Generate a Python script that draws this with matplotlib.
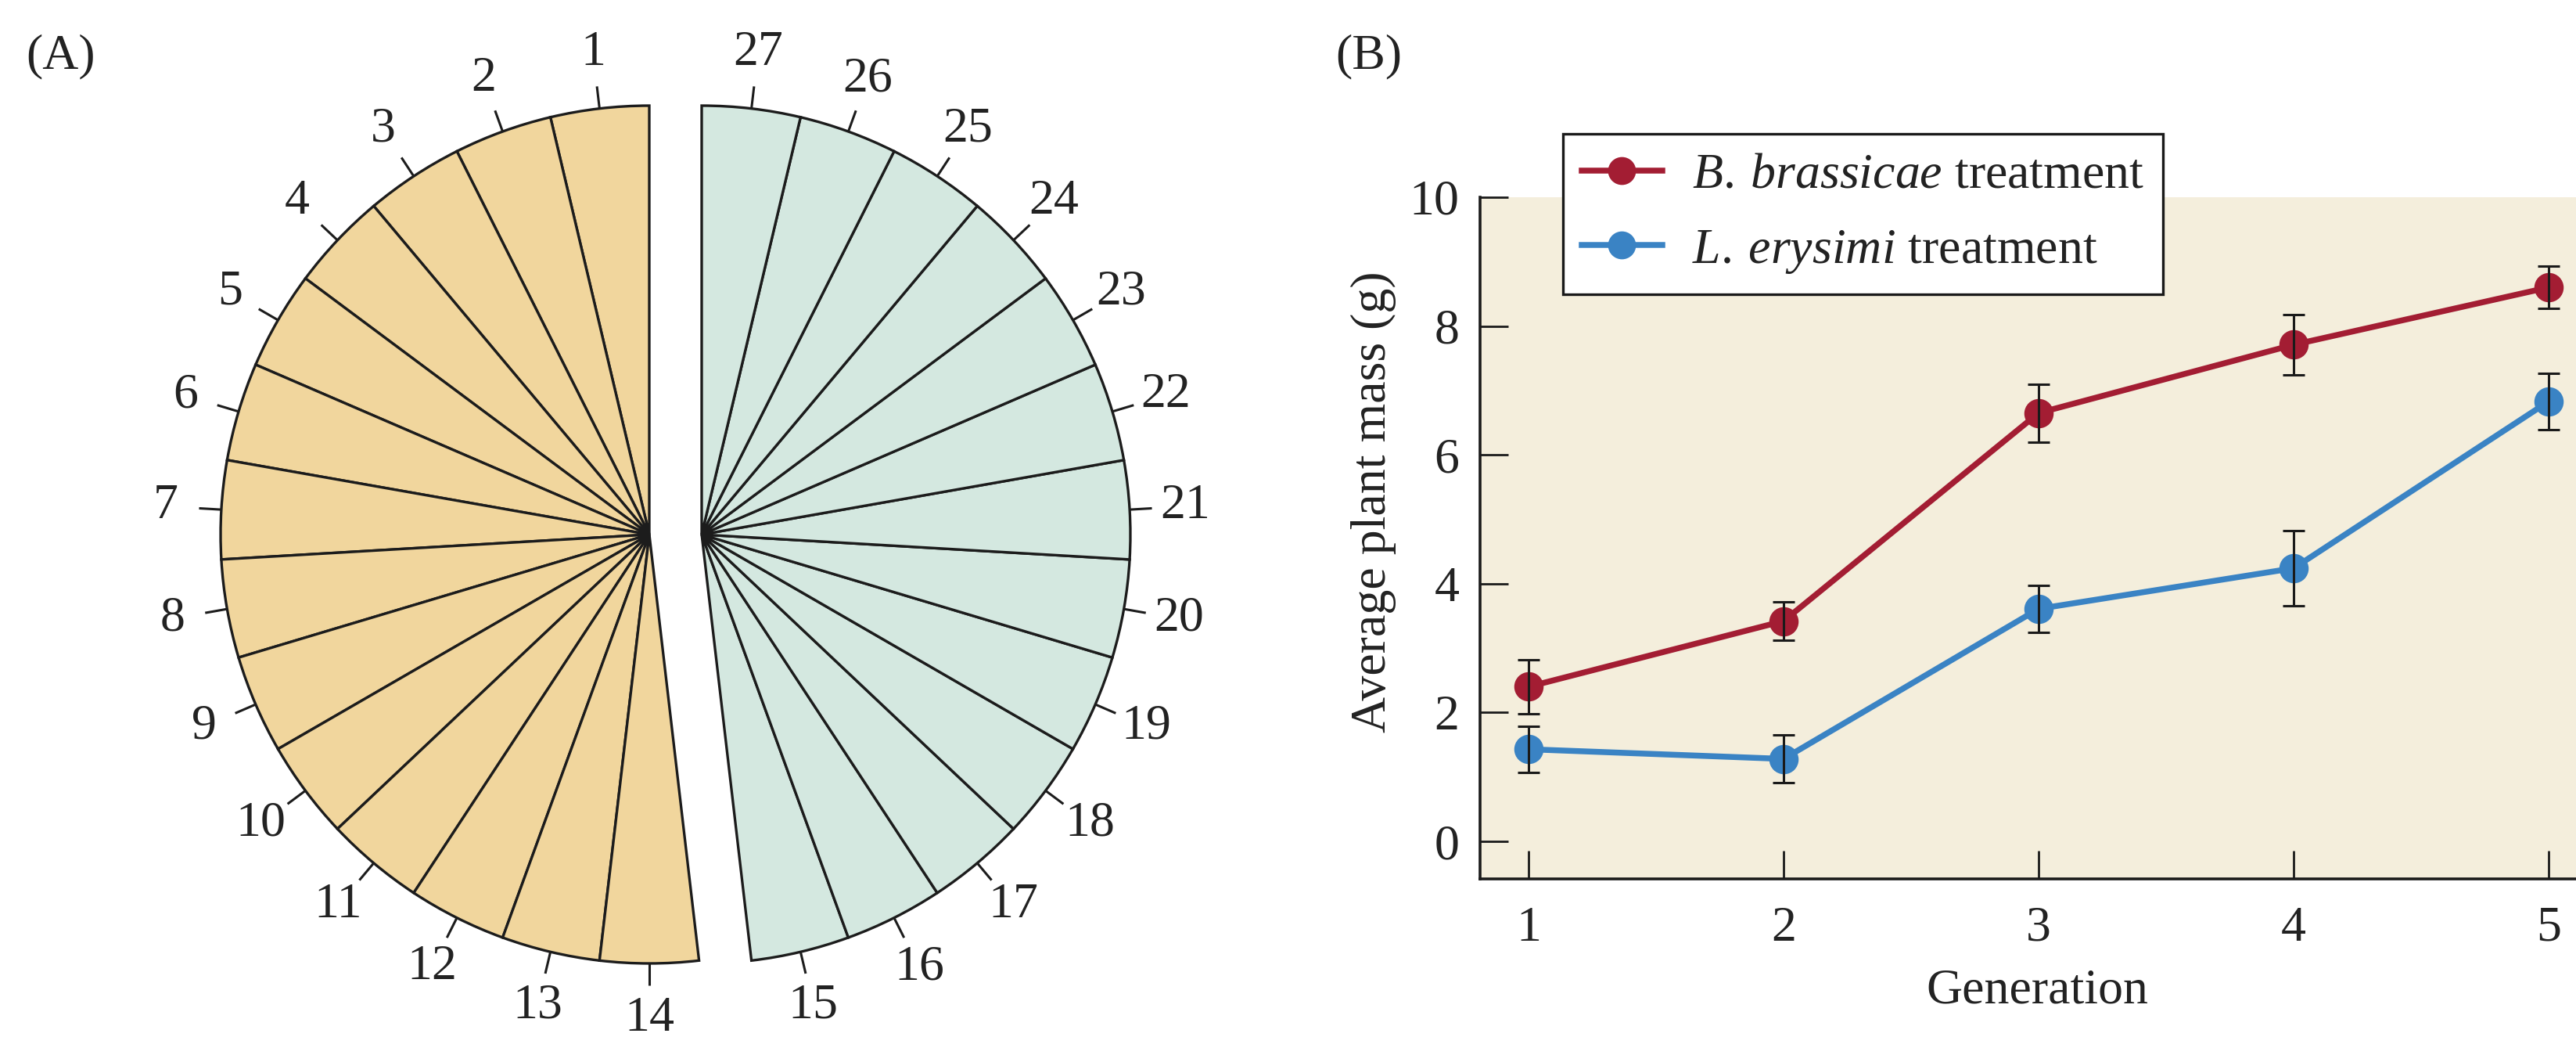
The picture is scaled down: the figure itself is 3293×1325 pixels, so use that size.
import matplotlib
matplotlib.use("Agg")
import matplotlib.pyplot as plt
import numpy as np

plt.rcParams['font.family'] = ['Liberation Serif', 'DejaVu Serif']
plt.rcParams['mathtext.fontset'] = 'custom'
plt.rcParams['mathtext.rm'] = 'Liberation Serif'
plt.rcParams['mathtext.it'] = 'Liberation Serif:italic'

# ---------------- data ----------------
sector_labels = ['1', '2', '3', '4', '5', '6', '7', '8', '9', '10', '11', '12', '13', '14',
                 '15', '16', '17', '18', '19', '20', '21', '22', '23', '24', '25', '26', '27']
sector_sizes = [1, 1, 1, 1, 1, 1, 1, 1, 1, 1, 1, 1, 1, 1,
                1, 1, 1, 1, 1, 1, 1, 1, 1, 1, 1, 1, 1]
sector_group = ['A'] * 14 + ['B'] * 13

generations = [1, 2, 3, 4, 5]
brassicae_mass = [2.40, 3.42, 6.65, 7.71, 8.60]
brassicae_err = [0.42, 0.30, 0.45, 0.47, 0.33]
erysimi_mass = [1.43, 1.28, 3.61, 4.24, 6.83]
erysimi_err = [0.36, 0.37, 0.36, 0.58, 0.44]

# ---------------- style ----------------
W, H = 3293, 1325
FS = 46
col_left = '#F1D69D'
col_right = '#D4E8E0'
edge = '#1c1c1c'
red = '#A31D33'
blue = '#3A83C4'

fig = plt.figure(figsize=(W / 100, H / 100), dpi=100)
fig.patch.set_facecolor('white')

# ---------------- Panel A: split pie ----------------
R_PX = 548.0
pie_w_px = 1727.0
cx_px, cy_px = 863.5, H - 683.0
axA = fig.add_axes([0, 0, pie_w_px / W, 1])
shift = 33.5 / R_PX
colors = [col_left if g == 'A' else col_right for g in sector_group]

for grp, dx in (('A', -shift), ('B', shift)):
    wedges, _ = axA.pie(sector_sizes, colors=colors, startangle=90, counterclock=True,
                        center=(dx, 0), radius=1.0,
                        wedgeprops=dict(edgecolor=edge, linewidth=2.4))
    for w, g, lab in zip(wedges, sector_group, sector_labels):
        if g != grp:
            w.set_visible(False)
            continue
        th = np.deg2rad((w.theta1 + w.theta2) / 2)
        c = np.array(w.center)
        p0 = c + 1.0 * np.array([np.cos(th), np.sin(th)])
        p1 = c + 1.052 * np.array([np.cos(th), np.sin(th)])
        axA.plot([p0[0], p1[0]], [p0[1], p1[1]], color=edge, lw=2.2, solid_capstyle='butt')
        pl = c + 1.13 * np.array([np.cos(th), np.sin(th)])
        axA.text(pl[0], pl[1], lab, ha='center', va='center', fontsize=FS, color='#222222')

axA.set_xlim(-cx_px / R_PX, (pie_w_px - cx_px) / R_PX)
axA.set_ylim(-cy_px / R_PX, (H - cy_px) / R_PX)
axA.set_aspect('auto')
axA.axis('off')

fig.text(77 / W, 1 - 72 / H, '(A)', ha='center', va='center', fontsize=FS, color='#222222')
fig.text(1750 / W, 1 - 72 / H, '(B)', ha='center', va='center', fontsize=FS, color='#222222')

# ---------------- Panel B: line chart ----------------
left_px, right_px, top_px, bot_px = 1892, 3293, 252, 1123
axB = fig.add_axes([left_px / W, 1 - bot_px / H, (right_px - left_px) / W, (bot_px - top_px) / H])
axB.set_facecolor('#F4EEDC')

axB.plot(generations, brassicae_mass, '-o', color=red, lw=5.4, ms=26, zorder=3,
         label=r'$\mathit{B.\:brassicae}$ treatment')
axB.plot(generations, erysimi_mass, '-o', color=blue, lw=5.4, ms=26, zorder=3,
         label=r'$\mathit{L.\:erysimi}$ treatment')
axB.errorbar(generations, brassicae_mass, yerr=brassicae_err, fmt='none', ecolor='#1a1a1a',
             elinewidth=2.2, capsize=10, capthick=2.2, zorder=4)
axB.errorbar(generations, erysimi_mass, yerr=erysimi_err, fmt='none', ecolor='#1a1a1a',
             elinewidth=2.2, capsize=10, capthick=2.2, zorder=4)

axB.set_xlim(0.81, 5.107)
axB.set_ylim(-0.583, 10.0)
axB.set_xticks(generations)
axB.set_yticks([0, 2, 4, 6, 8, 10])
for s in ('top', 'right'):
    axB.spines[s].set_visible(False)
for s in ('left', 'bottom'):
    axB.spines[s].set_linewidth(2.6)
    axB.spines[s].set_color('#1a1a1a')
axB.tick_params(axis='both', direction='in', length=26, width=2.0, labelsize=FS,
                colors='#1a1a1a', labelcolor='#222222')
axB.tick_params(axis='x', pad=25)
axB.tick_params(axis='y', pad=19)

axB.set_ylabel('Average plant mass (g)', fontsize=FS, color='#222222', va='center')
axB.yaxis.set_label_coords((1756 - left_px) / (right_px - left_px), (bot_px - 641) / (bot_px - top_px))
axB.set_xlabel('Generation', fontsize=FS, color='#222222', va='center')
axB.xaxis.set_label_coords((2604 - left_px) / (right_px - left_px), (bot_px - 1266) / (bot_px - top_px))

leg = axB.legend(loc='upper left',
                 bbox_to_anchor=((1998 - left_px) / (right_px - left_px), (bot_px - 171) / (bot_px - top_px)),
                 borderaxespad=0, fontsize=FS, frameon=True, fancybox=False, framealpha=1,
                 edgecolor='#1a1a1a', facecolor='white', handlelength=1.6, handletextpad=0.6,
                 borderpad=0.38, labelspacing=0.58, markerscale=0.95)
leg.get_frame().set_linewidth(2.4)
for t in leg.get_texts():
    t.set_color('#222222')

fig.savefig('out.png', dpi=100, facecolor='white')
